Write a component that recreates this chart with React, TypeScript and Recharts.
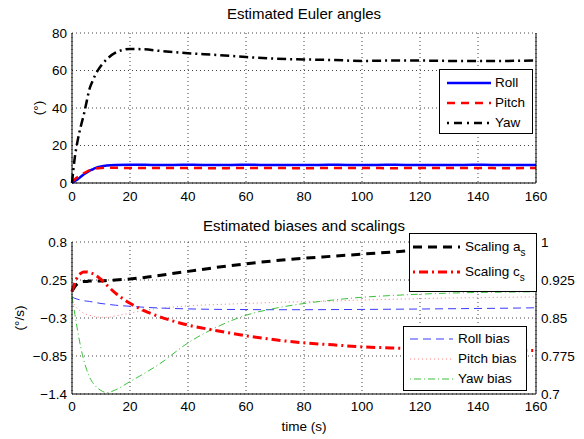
import React from 'react';
import { LineChart, Line, XAxis, YAxis, CartesianGrid, Legend } from 'recharts';

const FONT = '"Liberation Sans", Arial, Helvetica, sans-serif';

// ---------- Top chart: Estimated Euler angles ----------
const eulerTime = [0, 1, 2, 3, 4, 5, 6, 7, 8, 10, 12, 15, 20, 25, 30, 40, 50, 60, 70, 80, 90, 100, 110, 120, 130, 140, 150, 160];
const rollDeg = [0, 1.0, 2.0, 3.3, 4.5, 5.5, 6.5, 7.2, 7.9, 8.8, 9.3, 9.6, 9.7, 9.7, 9.6, 9.7, 9.6, 9.7, 9.6, 9.6, 9.7, 9.6, 9.7, 9.6, 9.6, 9.7, 9.6, 9.6];
const pitchDeg = [0.5, 2.0, 3.2, 4.3, 5.2, 6.0, 6.7, 7.2, 7.6, 8.0, 8.1, 8.1, 8.0, 8.0, 8.0, 8.0, 7.9, 8.0, 8.0, 7.9, 8.0, 8.0, 7.9, 8.0, 8.0, 8.0, 7.9, 8.0];
const yawDeg = [0, 14, 23, 30, 36, 43, 50, 54, 57.5, 62.5, 66, 69.5, 71.5, 71.3, 70.5, 69.2, 68.3, 67.2, 66.3, 65.9, 65.6, 65.1, 65.3, 65.3, 65.1, 65.0, 65.1, 65.4];

// ---------- Bottom chart: Estimated biases and scalings ----------
const biasTime = [0, 1, 2, 3, 4, 5, 6, 8, 10, 12, 15, 20, 25, 30, 40, 50, 60, 70, 80, 90, 100, 110, 120, 130, 140, 150, 160];
const scalingA = [0.903, 0.912, 0.918, 0.921, 0.922, 0.922, 0.923, 0.923, 0.923, 0.924, 0.925, 0.927, 0.930, 0.934, 0.942, 0.950, 0.957, 0.963, 0.968, 0.972, 0.976, 0.980, 0.984, 0.987, 0.990, 0.992, 0.994];
const scalingC = [0.902, 0.920, 0.932, 0.938, 0.941, 0.941, 0.940, 0.935, 0.926, 0.915, 0.899, 0.879, 0.864, 0.853, 0.836, 0.825, 0.815, 0.807, 0.801, 0.797, 0.793, 0.791, 0.789, 0.788, 0.787, 0.786, 0.786];
const rollBias = [0.0, -0.015, -0.03, -0.04, -0.05, -0.055, -0.06, -0.075, -0.09, -0.1, -0.115, -0.13, -0.145, -0.155, -0.168, -0.175, -0.178, -0.18, -0.18, -0.178, -0.176, -0.173, -0.17, -0.166, -0.162, -0.158, -0.152];
const pitchBias = [-0.05, -0.12, -0.17, -0.2, -0.23, -0.25, -0.26, -0.28, -0.29, -0.29, -0.27, -0.23, -0.19, -0.16, -0.125, -0.105, -0.09, -0.075, -0.065, -0.055, -0.04, -0.03, -0.02, -0.01, -0.005, 0.0, 0.005];
const yawBias = [0.02, -0.25, -0.5, -0.72, -0.9, -1.04, -1.15, -1.28, -1.35, -1.38, -1.34, -1.22, -1.1, -0.97, -0.66, -0.43, -0.26, -0.16, -0.09, -0.04, 0.0, 0.025, 0.045, 0.06, 0.07, 0.075, 0.08];

// ---------- Ticks / labels ----------
const timeTicks = [0, 20, 40, 60, 80, 100, 120, 140, 160];
const eulerTicks = [0, 20, 40, 60, 80];
const biasTicks = [-1.4, -0.85, -0.3, 0.25, 0.8];
const scaleTicks = [0.7, 0.775, 0.85, 0.925, 1];
const eulerNames = ['Roll', 'Pitch', 'Yaw'];
const scaleNames = ['Scaling a', 'Scaling c'];
const biasNames = ['Roll bias', 'Pitch bias', 'Yaw bias'];

const eulerData = eulerTime.map((t, i) => ({ t, roll: rollDeg[i], pitch: pitchDeg[i], yaw: yawDeg[i] }));
const biasData = biasTime.map((t, i) => ({
  t,
  sa: scalingA[i],
  sc: scalingC[i],
  rb: rollBias[i],
  pb: pitchBias[i],
  yb: yawBias[i],
}));

const tickStyle = { fill: '#000', fontSize: 13.5, fontFamily: FONT };
const fmt = (v: number) => String(v).replace('-', '\u2212');

type Row = { label: React.ReactNode; color: string; dash?: string; width: number; y: number };

function LegendBox({ left, top, width, height, lineX, lineW, gap, rows }: {
  left: number; top: number; width: number; height: number; lineX: number; lineW: number; gap: number; rows: Row[];
}) {
  return (
    <div
      style={{
        position: 'absolute', left, top, width, height, border: '1px solid #000',
        background: '#fff', boxSizing: 'border-box',
      }}
    >
      {rows.map((r, i) => (
        <div
          key={i}
          style={{
            position: 'absolute', left: lineX, top: r.y - 10, height: 20, display: 'flex',
            alignItems: 'center', whiteSpace: 'nowrap',
          }}
        >
          <svg width={lineW} height={10} style={{ display: 'block' }}>
            <line x1={0} y1={5} x2={lineW} y2={5} stroke={r.color} strokeWidth={r.width} strokeDasharray={r.dash} />
          </svg>
          <span style={{ marginLeft: gap, fontSize: 13.5, fontFamily: FONT, color: '#000', lineHeight: '16px' }}>{r.label}</span>
        </div>
      ))}
    </div>
  );
}

const sub = (t: string) => (
  <span style={{ fontSize: 10, position: 'relative', top: 5 }}>{t}</span>
);

export default function App() {
  return (
    <div style={{ position: 'absolute', left: 0, top: 0, width: 584, height: 439, background: '#fff', fontFamily: FONT }}>
      {/* Top chart */}
      <div style={{ position: 'absolute', left: 0, top: 0 }}>
        <LineChart width={584} height={215} data={eulerData} margin={{ top: 33, right: 38, bottom: 12, left: 32 }}>
          <CartesianGrid xAxisId="b" yAxisId="l" stroke="#444" strokeDasharray="1 3" />
          <XAxis xAxisId="b" dataKey="t" type="number" domain={[0, 160]} ticks={timeTicks} interval={0}
            tickLine={false} tickSize={0} tickMargin={8} height={20} tick={tickStyle} axisLine={{ stroke: '#000' }} />
          <XAxis xAxisId="t" orientation="top" dataKey="t" type="number" domain={[0, 160]} ticks={timeTicks}
            tick={false} tickLine={false} height={0} axisLine={{ stroke: '#000' }} />
          <YAxis yAxisId="l" type="number" domain={[0, 80]} ticks={eulerTicks} interval={0} width={40}
            tickLine={false} tickSize={0} tickMargin={5} tick={tickStyle} axisLine={{ stroke: '#000' }} />
          <YAxis yAxisId="r" orientation="right" type="number" domain={[0, 80]} ticks={eulerTicks} width={10}
            tick={false} tickLine={false} axisLine={{ stroke: '#000' }} />
          <Line xAxisId="b" yAxisId="l" dataKey="roll" name={eulerNames[0]} type="monotone" stroke="#0000ff" strokeWidth={2.5} dot={false} isAnimationActive={false} />
          <Line xAxisId="b" yAxisId="l" dataKey="pitch" name={eulerNames[1]} type="monotone" stroke="#ff0000" strokeWidth={2.5} strokeDasharray="8 6" dot={false} isAnimationActive={false} />
          <Line xAxisId="b" yAxisId="l" dataKey="yaw" name={eulerNames[2]} type="monotone" stroke="#000000" strokeWidth={2.5} strokeDasharray="9 4 2 4" dot={false} isAnimationActive={false} />
          <Legend
            layout="vertical" align="center" verticalAlign="middle"
            wrapperStyle={{ position: 'absolute', left: 0, top: 0, width: 584, height: 215, pointerEvents: 'none' }}
            content={() => (
              <LegendBox left={439} top={69} width={94} height={65} lineX={7} lineW={44} gap={4}
                rows={[
                  { label: eulerNames[0], color: '#0000ff', width: 2.5, y: 13 },
                  { label: eulerNames[1], color: '#ff0000', width: 2.5, dash: '8 6', y: 33 },
                  { label: eulerNames[2], color: '#000', width: 2.5, dash: '2 5 8 5', y: 53 },
                ]} />
            )}
          />
        </LineChart>
      </div>

      {/* Bottom chart */}
      <div style={{ position: 'absolute', left: 0, top: 215 }}>
        <LineChart width={584} height={224} data={biasData} margin={{ top: 27, right: 0, bottom: 0, left: 32 }}>
          <CartesianGrid xAxisId="b" yAxisId="l" stroke="#444" strokeDasharray="1 3" />
          <XAxis xAxisId="b" dataKey="t" type="number" domain={[0, 160]} ticks={timeTicks} interval={0}
            tickLine={false} tickSize={0} tickMargin={7} height={45} tick={tickStyle} axisLine={{ stroke: '#000' }}
            label={{ value: 'time (s)', position: 'insideBottom', offset: 8, style: { fill: '#000', fontSize: 13.5, fontFamily: FONT } }} />
          <XAxis xAxisId="t" orientation="top" dataKey="t" type="number" domain={[0, 160]} ticks={timeTicks}
            tick={false} tickLine={false} height={0} axisLine={{ stroke: '#000' }} />
          <YAxis yAxisId="l" type="number" domain={[-1.4, 0.8]} ticks={biasTicks} interval={0} width={40}
            tickLine={false} tickSize={0} tickMargin={5} tick={tickStyle} tickFormatter={fmt} axisLine={{ stroke: '#000' }} />
          <YAxis yAxisId="r" orientation="right" type="number" domain={[0.7, 1]} ticks={scaleTicks} interval={0} width={48}
            tickLine={false} tickSize={0} tickMargin={5} tick={tickStyle} axisLine={{ stroke: '#000' }} />
          <Line xAxisId="b" yAxisId="l" dataKey="rb" name={biasNames[0]} type="monotone" stroke="#3a3aff" strokeWidth={1} strokeDasharray="8 5" dot={false} isAnimationActive={false} />
          <Line xAxisId="b" yAxisId="l" dataKey="pb" name={biasNames[1]} type="monotone" stroke="#ff7a7a" strokeWidth={1} strokeDasharray="1 3" dot={false} isAnimationActive={false} />
          <Line xAxisId="b" yAxisId="l" dataKey="yb" name={biasNames[2]} type="monotone" stroke="#3cc03c" strokeWidth={1} strokeDasharray="7 3 1 3" dot={false} isAnimationActive={false} />
          <Line xAxisId="b" yAxisId="r" dataKey="sa" name={scaleNames[0]} type="monotone" stroke="#000" strokeWidth={3} strokeDasharray="9 6" dot={false} isAnimationActive={false} />
          <Line xAxisId="b" yAxisId="r" dataKey="sc" name={scaleNames[1]} type="monotone" stroke="#ff0000" strokeWidth={3} strokeDasharray="9 4 2 4" dot={false} isAnimationActive={false} />
          <Legend
            layout="vertical" align="center" verticalAlign="middle"
            wrapperStyle={{ position: 'absolute', left: 0, top: 0, width: 584, height: 224, pointerEvents: 'none' }}
            content={() => (
              <div>
                <LegendBox left={409} top={18} width={128} height={59} lineX={3} lineW={47} gap={5}
                  rows={[
                    { label: <>{scaleNames[0]}{sub('s')}</>, color: '#000', width: 3, dash: '9 6', y: 13 },
                    { label: <>{scaleNames[1]}{sub('s')}</>, color: '#ff0000', width: 3, dash: '2 4 9 4', y: 38 },
                  ]} />
                <LegendBox left={403} top={111} width={124} height={65} lineX={6} lineW={43} gap={5}
                  rows={[
                    { label: biasNames[0], color: '#3a3aff', width: 1, dash: '8 5', y: 12 },
                    { label: biasNames[1], color: '#ff7a7a', width: 1, dash: '1 3', y: 32 },
                    { label: biasNames[2], color: '#3cc03c', width: 1, dash: '1 3 7 3', y: 52 },
                  ]} />
              </div>
            )}
          />
        </LineChart>
      </div>

      {/* Titles and axis labels */}
      <div style={{ position: 'absolute', left: 304, top: 13, transform: 'translate(-50%,-50%)', fontSize: 15, whiteSpace: 'nowrap', color: '#000' }}>
        Estimated Euler angles
      </div>
      <div style={{ position: 'absolute', left: 304, top: 225, transform: 'translate(-50%,-50%)', fontSize: 15, whiteSpace: 'nowrap', color: '#000' }}>
        Estimated biases and scalings
      </div>
      <div style={{ position: 'absolute', left: 38, top: 108, transform: 'translate(-50%,-50%) rotate(-90deg)', fontSize: 13.5, whiteSpace: 'nowrap', color: '#000' }}>
        (°)
      </div>
      <div style={{ position: 'absolute', left: 19, top: 318, transform: 'translate(-50%,-50%) rotate(-90deg)', fontSize: 13.5, whiteSpace: 'nowrap', color: '#000' }}>
        (°/s)
      </div>
    </div>
  );
}
